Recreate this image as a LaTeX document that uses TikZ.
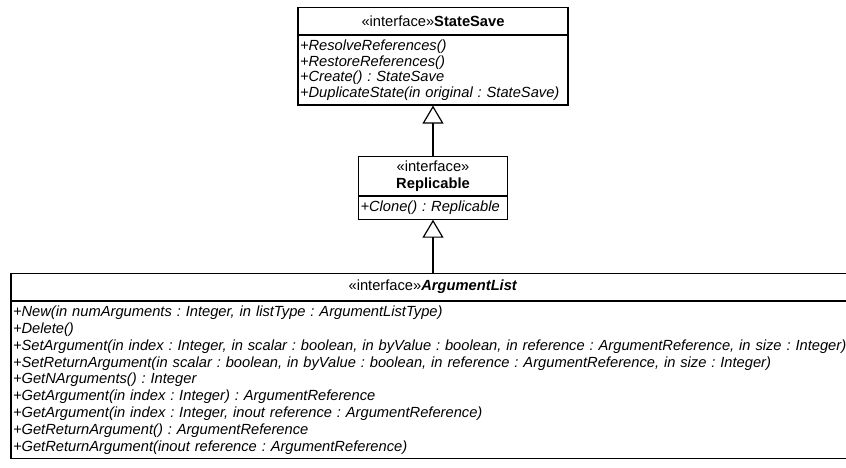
\documentclass[tikz,border=0pt]{standalone}
\usepackage{fontspec}
\setmainfont{Liberation Sans}
\usetikzlibrary{arrows.meta, positioning}

\tikzset{
  classhead/.style={draw, line width=1.2pt, align=center, inner sep=2pt,
    font=\frenchspacing\fontsize{14.7}{17}\selectfont},
  classbody/.style={draw, line width=1.2pt, align=left, inner xsep=2pt, inner ysep=4.5pt,
    font=\frenchspacing\fontsize{14.7}{#1}\selectfont\itshape},
  classbody/.default=15.5,
  realizes/.style={-{Triangle[open, length=18pt, width=21pt]}, line width=1.2pt}
}

\begin{document}
\begin{tikzpicture}[x=1pt, y=1pt]
  \useasboundingbox (0,0) rectangle (846,-468);
  % StateSave
  \node[classhead, minimum width=270pt, minimum height=27pt, anchor=north] (ssh) at (433,-7)
    {«interface»\textbf{StateSave}};
  \node[classbody, text width=266pt, below=0pt of ssh] (ssb)
    {+ResolveReferences()\\
     +RestoreReferences()\\
     +Create() : StateSave\\
     +DuplicateState(in original : StateSave)};
  % Replicable
  \node[classhead, minimum width=149pt, minimum height=39pt, below=50pt of ssb] (reph)
    {«interface»\\\textbf{Replicable}};
  \node[classbody, text width=145pt, below=0pt of reph] (repb)
    {+Clone() : Replicable};
  % ArgumentList
  \node[classhead, minimum width=844pt, minimum height=27pt, below=53pt of repb] (alh)
    {«interface»\textbf{\itshape ArgumentList}};
  \node[classbody=16.8, text width=840pt, below=0pt of alh] (alb)
    {+New(in numArguments : Integer, in listType : ArgumentListType)\\
     +Delete()\\
     +SetArgument(in index : Integer, in scalar : boolean, in byValue : boolean, in reference : ArgumentReference, in size : Integer)\\
     +SetReturnArgument(in scalar : boolean, in byValue : boolean, in reference : ArgumentReference, in size : Integer)\\
     +GetNArguments() : Integer\\
     +GetArgument(in index : Integer) : ArgumentReference\\
     +GetArgument(in index : Integer, inout reference : ArgumentReference)\\
     +GetReturnArgument() : ArgumentReference\\
     +GetReturnArgument(inout reference : ArgumentReference)};

  \draw[realizes] (reph) -- (ssb);
  \draw[realizes] (alh) -- (repb);
\end{tikzpicture}
\end{document}
